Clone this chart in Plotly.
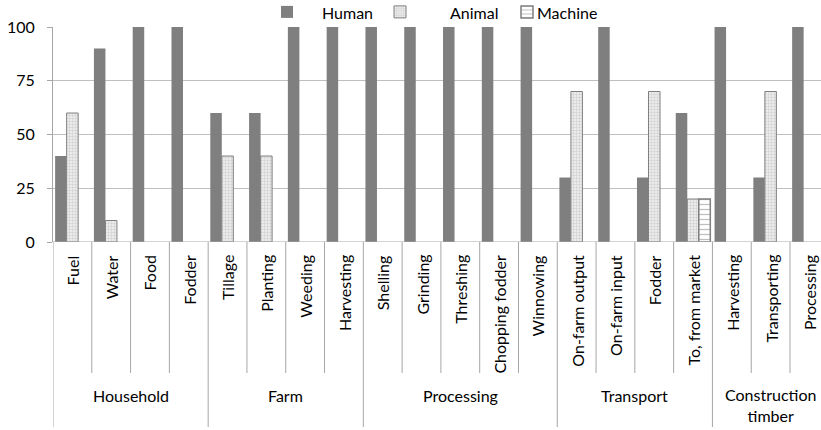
import plotly.graph_objects as go

groups = ["Household", "Farm", "Processing", "Transport", "Construction<br>timber"]
group_sizes = [4, 4, 5, 4, 3]
categories = ["Fuel", "Water", "Food", "Fodder",
              "Tillage", "Planting", "Weeding", "Harvesting",
              "Shelling", "Grinding", "Threshing", "Chopping fodder", "Winnowing",
              "On-farm output", "On-farm input", "Fodder", "To, from market",
              "Harvesting", "Transporting", "Processing"]
human = [40, 90, 100, 100, 60, 60, 100, 100, 100, 100, 100, 100, 100,
         30, 100, 30, 60, 100, 30, 100]
animal = [60, 10, None, None, 40, 40, None, None, None, None, None, None, None,
          70, None, 70, 20, None, 70, None]
machine = [None] * 16 + [20] + [None] * 3
series_names = ["Human", "Animal", "Machine"]
y_ticks = [0, 25, 50, 75, 100]

FONT = "Lato"
FS = 16
W, H = 821, 430
L, R, T, B = 53, 0, 27, 188
plot_h = H - T - B
cat_w = 38.79
x_end = -0.5 + (W - L - R) / cat_w

def py(p):
    return (H - B - p) / plot_h

def px_(p):
    return (p - L) / (W - L - R)

xs = list(range(len(categories)))
gray = "#7f7f7f"

fig = go.Figure()
fig.add_trace(go.Bar(x=xs, y=human, name="", marker=dict(color=gray, line=dict(width=0)),
                     legend="legend", hoverinfo="skip"))
fig.add_trace(go.Bar(x=xs, y=animal, name="",
                     marker=dict(color="white", line=dict(color=gray, width=1),
                                 pattern=dict(shape=".", fgcolor="#b3b3b3", bgcolor="#f2f2f2",
                                              size=3, solidity=0.5)),
                     legend="legend2", hoverinfo="skip"))
fig.add_trace(go.Bar(x=xs, y=machine, name="",
                     marker=dict(color="white", line=dict(color=gray, width=1.5),
                                 pattern=dict(shape="-", fgcolor=gray, bgcolor="white",
                                              size=5, solidity=0.25)),
                     legend="legend3", hoverinfo="skip"))

shapes = []
annotations = []
for i, c in enumerate(categories):
    annotations.append(dict(x=i, y=py(253), xref="x", yref="paper", text=c, textangle=-90,
                            showarrow=False, xanchor="center", yanchor="top",
                            font=dict(family=FONT, size=FS, color="black")))
line_col = "#a6a6a6"
pos = 0
for g, n in zip(groups, group_sizes):
    shapes.append(dict(type="line", xref="x", yref="paper", x0=pos - 0.5, x1=pos - 0.5,
                       y0=0, y1=py(427), line=dict(color=line_col, width=1)))
    center = pos + (n - 1) / 2
    ypix = 405 if "<br>" in g else 395
    annotations.append(dict(x=center, y=py(ypix), xref="x", yref="paper", text=g,
                            showarrow=False, xanchor="center", yanchor="middle",
                            font=dict(family=FONT, size=FS, color="black")))
    for k in range(1, n):
        shapes.append(dict(type="line", xref="x", yref="paper", x0=pos + k - 0.5,
                           x1=pos + k - 0.5, y0=0, y1=py(373),
                           line=dict(color=line_col, width=1)))
    pos += n

# legend texts
leg_text_x = [320, 448, 535]
for name, tx in zip(series_names, leg_text_x):
    annotations.append(dict(x=px_(tx), y=py(12), xref="paper", yref="paper", text=name,
                            showarrow=False, xanchor="left", yanchor="middle",
                            font=dict(family=FONT, size=FS, color="black")))

icon_x = [287, 400, 527]
legend_common = dict(orientation="h", yanchor="middle", xanchor="left", bgcolor="rgba(0,0,0,0)",
                     font=dict(family=FONT, size=FS))

fig.update_layout(
    width=W, height=H,
    margin=dict(l=L, r=R, t=T, b=B, autoexpand=False),
    paper_bgcolor="white", plot_bgcolor="white",
    barmode="group", bargap=0.11, bargroupgap=0,
    showlegend=True,
    legend=dict(x=px_(icon_x[0] - 20), y=py(12), **legend_common),
    legend2=dict(x=px_(icon_x[1] - 20), y=py(12), **legend_common),
    legend3=dict(x=px_(icon_x[2] - 20), y=py(12), **legend_common),
    xaxis=dict(range=[-0.5, x_end], showticklabels=False, showgrid=False, zeroline=False,
               showline=False, ticks=""),
    yaxis=dict(range=[0, 100], tickvals=y_ticks, showgrid=True, gridcolor="#bfbfbf", gridwidth=1,
               zeroline=False, showline=True, linecolor="#a6a6a6", linewidth=1,
               ticks="outside", ticklen=5, tickcolor="#a6a6a6", ticklabelstandoff=9,
               tickfont=dict(family=FONT, size=FS, color="black")),
    shapes=shapes,
    annotations=annotations,
)
fig.add_shape(type="line", xref="paper", yref="y", x0=0, x1=1, y0=0, y1=0,
              line=dict(color="#a6a6a6", width=1))

fig.write_html("out.html", config={"displayModeBar": False},
               post_script="document.body.style.margin='0';document.body.style.padding='0';")
